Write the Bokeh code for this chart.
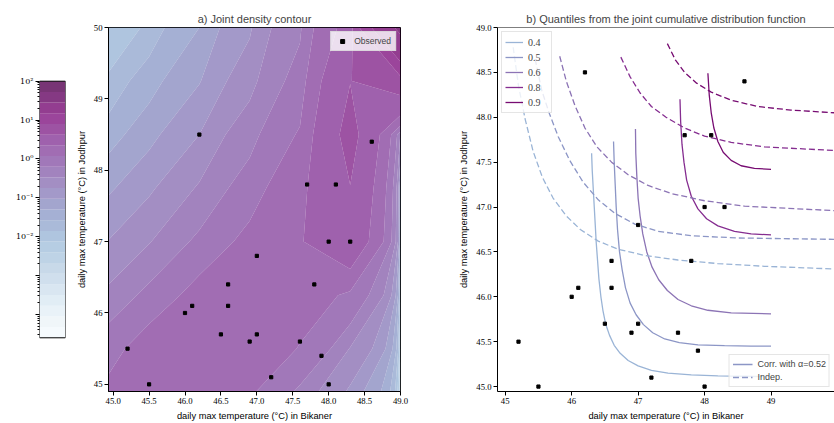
import numpy as np
from bokeh.plotting import figure
from bokeh.layouts import row
from bokeh.models import (Range1d, FixedTicker, CustomJSTickFormatter, PrintfTickFormatter,
                          Legend, LegendItem, Span)
from bokeh.embed import file_html
from bokeh.resources import INLINE

# ---------------- data ----------------
OBS_BIKANER = [45.2, 45.5, 46.0, 46.1, 46.2, 46.5, 46.6, 46.6, 46.9, 47.0, 47.0,
               47.2, 47.6, 47.7, 47.8, 47.9, 48.0, 48.0, 48.1, 48.3, 48.6]
OBS_JODHPUR = [45.5, 45.0, 46.0, 46.1, 48.5, 45.7, 46.1, 46.4, 45.6, 45.7, 46.8,
               45.1, 45.6, 47.8, 46.4, 45.4, 45.0, 47.0, 47.8, 47.0, 48.4]

# joint density (log10) read on a coarse grid
DENS_X = [44.8, 45.5, 46.2, 46.9, 47.6, 48.3, 49.0]
DENS_Y = [44.75, 45.5, 46.25, 47.0, 47.75, 48.5, 49.25, 50.0]
LOG10_DENS = [
    [0.12, 0.28, 0.32, 0.05, -0.40, -0.95, -4.5],
    [-0.12, 0.20, 0.34, 0.32, 0.05, -0.50, -4.5],
    [-0.47, -0.14, 0.17, 0.30, 0.25, 0.00, -4.0],
    [-0.82, -0.50, -0.15, 0.15, 0.33, 0.55, -3.0],
    [-1.18, -0.82, -0.45, -0.08, 0.28, 0.62, -2.0],
    [-1.55, -1.15, -0.75, -0.32, 0.10, 0.70, -0.5],
    [-1.90, -1.45, -1.05, -0.60, -0.10, 0.62, 0.75],
    [-2.25, -1.80, -1.30, -0.80, -0.25, 0.45, 1.50],
]
LOG_LEVEL_MIN = -4.6
LOG_LEVEL_MAX = 2.0
N_BANDS = 24
CB_MAJOR = [1e-4, 1e-3, 1e-2, 1e-1, 1e0, 1e1, 1e2]

QUANTILES = [0.4, 0.5, 0.6, 0.8, 0.9]
CORR_X_04 = [46.30, 46.31, 46.325, 46.34, 46.355, 46.37, 46.39, 46.41, 46.44, 46.47, 46.51,
             46.57, 46.64, 46.73, 46.85, 47.0, 47.2, 47.45, 47.8, 48.2, 48.6, 49.0]
CORR_Y_04 = [47.60, 47.40, 47.20, 47.00, 46.80, 46.60, 46.40, 46.20, 46.00, 45.85, 45.70,
             45.57, 45.46, 45.37, 45.29, 45.23, 45.18, 45.15, 45.13, 45.12, 45.115, 45.11]
CORR_X_05 = [46.63, 46.64, 46.655, 46.67, 46.69, 46.72, 46.76, 46.81, 46.88, 46.97, 47.08,
             47.22, 47.40, 47.62, 47.9, 48.3, 48.7, 49.0]
CORR_Y_05 = [47.73, 47.50, 47.25, 47.00, 46.75, 46.50, 46.30, 46.10, 45.93, 45.80, 45.69,
             45.60, 45.53, 45.49, 45.465, 45.455, 45.45, 45.45]
CORR_X_06 = [46.96, 46.965, 46.98, 47.0, 47.03, 47.07, 47.13, 47.21, 47.31, 47.44, 47.6,
             47.8, 48.05, 48.4, 49.0]
CORR_Y_06 = [47.87, 47.60, 47.35, 47.10, 46.90, 46.70, 46.50, 46.33, 46.19, 46.07, 45.97,
             45.90, 45.85, 45.82, 45.81]
CORR_X_08 = [47.63, 47.64, 47.66, 47.69, 47.73, 47.80, 47.90, 48.03, 48.20, 48.45, 48.70, 49.0]
CORR_Y_08 = [48.20, 47.95, 47.70, 47.50, 47.30, 47.12, 46.98, 46.87, 46.79, 46.73, 46.70, 46.69]
CORR_X_09 = [48.05, 48.07, 48.10, 48.14, 48.20, 48.28, 48.40, 48.55, 48.75, 49.0]
CORR_Y_09 = [48.49, 48.25, 48.05, 47.88, 47.73, 47.61, 47.52, 47.46, 47.43, 47.42]

IND_X_04 = [45.12, 45.20, 45.30, 45.42, 45.56, 45.72, 45.92, 46.13, 46.40, 46.70, 47.10,
            47.60, 48.20, 48.90, 49.95]
IND_Y_04 = [48.78, 48.35, 47.98, 47.62, 47.33, 47.10, 46.90, 46.75, 46.62, 46.53, 46.46,
            46.41, 46.37, 46.34, 46.31]
IND_X_05 = [45.45, 45.55, 45.66, 45.80, 45.97, 46.17, 46.40, 46.65, 46.95, 47.30, 47.80,
            48.50, 49.95]
IND_Y_05 = [48.65, 48.30, 48.05, 47.78, 47.52, 47.28, 47.08, 46.93, 46.81, 46.73, 46.68,
            46.655, 46.64]
IND_X_06 = [45.82, 45.92, 46.05, 46.20, 46.38, 46.60, 46.85, 47.15, 47.50, 48.00, 48.60, 49.95]
IND_Y_06 = [48.68, 48.40, 48.13, 47.88, 47.67, 47.50, 47.36, 47.24, 47.15, 47.07, 47.01, 46.96]
IND_X_08 = [46.74, 46.88, 47.03, 47.20, 47.42, 47.70, 48.00, 48.40, 48.90, 49.95]
IND_Y_08 = [48.67, 48.45, 48.27, 48.12, 48.00, 47.88, 47.79, 47.72, 47.67, 47.63]
IND_X_09 = [47.44, 47.56, 47.70, 47.88, 48.10, 48.40, 48.80, 49.30, 49.95]
IND_Y_09 = [48.82, 48.64, 48.50, 48.38, 48.28, 48.19, 48.12, 48.08, 48.05]

CORR_X = [CORR_X_04, CORR_X_05, CORR_X_06, CORR_X_08, CORR_X_09]
CORR_Y = [CORR_Y_04, CORR_Y_05, CORR_Y_06, CORR_Y_08, CORR_Y_09]
IND_X = [IND_X_04, IND_X_05, IND_X_06, IND_X_08, IND_X_09]
IND_Y = [IND_Y_04, IND_Y_05, IND_Y_06, IND_Y_08, IND_Y_09]

LEFT_XTICKS = [45.0, 45.5, 46.0, 46.5, 47.0, 47.5, 48.0, 48.5, 49.0]
LEFT_YTICKS = [45, 46, 47, 48, 49, 50]
RIGHT_XTICKS = [45, 46, 47, 48, 49, 50]
RIGHT_YTICKS = [45.0, 45.5, 46.0, 46.5, 47.0, 47.5, 48.0, 48.5, 49.0]

# ---------------- styles ----------------
BUPU = ["#f7fcfd", "#e0ecf4", "#bfd3e6", "#9ebcda", "#8c96c6",
        "#8c6bb1", "#88419d", "#810f7c", "#4d004b"]


def bupu(t):
    t = min(max(t, 0.0), 1.0) * 8
    i = min(int(t), 7)
    f = t - i
    a = [int(BUPU[i][k:k + 2], 16) for k in (1, 3, 5)]
    b = [int(BUPU[i + 1][k:k + 2], 16) for k in (1, 3, 5)]
    return "#%02x%02x%02x" % tuple(int(round(a[j] + (b[j] - a[j]) * f)) for j in range(3))


SANS = "Liberation Sans"
SERIF = "Liberation Serif"
XLAB = "daily max temperature (°C) in Bikaner"
YLAB = "daily max temperature (°C) in Jodhpur"

band_colors = [bupu((k + 0.5) / N_BANDS) for k in range(N_BANDS)]
log_levels = np.linspace(LOG_LEVEL_MIN, LOG_LEVEL_MAX, N_BANDS + 1)
levels = 10 ** log_levels

TOP, BOTTOM = 27, 30


def style_axis(ax, label=None):
    ax.major_label_text_font = SERIF
    ax.major_label_text_font_size = "8.7px"
    ax.major_label_text_color = "black"
    ax.major_tick_out = 4
    ax.major_tick_in = 0
    ax.minor_tick_line_color = None
    ax.axis_line_color = "black"
    ax.major_tick_line_color = "black"
    ax.major_label_standoff = 2
    if label is not None:
        ax.axis_label = label
        ax.axis_label_text_font = SANS
        ax.axis_label_text_font_size = "9.3px"
        ax.axis_label_text_font_style = "normal"
        ax.axis_label_text_color = "black"
        ax.axis_label_standoff = 4


# ---------------- colorbar ----------------
# colorbar body spans 258 px of the 366 px frame, centred vertically
pad_dec = 54 / (258 / (LOG_LEVEL_MAX - LOG_LEVEL_MIN))
cb = figure(width=66, height=423, x_range=Range1d(0, 1),
            y_range=Range1d(10 ** (LOG_LEVEL_MIN - pad_dec), 10 ** (LOG_LEVEL_MAX + pad_dec)),
            y_axis_type="log", x_axis_location=None,
            output_backend="svg", toolbar_location=None,
            min_border_left=39, min_border_right=1, min_border_top=TOP, min_border_bottom=BOTTOM)
cb.quad(left=0, right=1, bottom=levels[:-1], top=levels[1:],
        fill_color=band_colors, fill_alpha=0.8, line_color=None)
cb.quad(left=[0], right=[1], bottom=[levels[0]], top=[levels[-1]],
        fill_color=None, line_color="black", line_width=1)
cb.xgrid.visible = False
cb.ygrid.visible = False
cb.outline_line_color = None
minor = []
for e in range(-5, 2):
    for m in range(2, 10):
        v = m * 10.0 ** e
        if levels[0] <= v <= levels[-1]:
            minor.append(v)
cax = cb.yaxis[0]
cax.ticker = FixedTicker(ticks=CB_MAJOR, minor_ticks=minor)
cax.formatter = CustomJSTickFormatter(code="""
const e = Math.round(Math.log10(tick));
if (e < -2) { return ''; }
const sup = {'-':'\u207b','0':'\u2070','1':'\u00b9','2':'\u00b2','3':'\u00b3','4':'\u2074'};
return '10' + String(e).split('').map(c => sup[c]).join('');
""")
cax.major_label_text_font = "DejaVu Serif"
cax.major_label_text_font_size = "8px"
cax.major_label_text_color = "black"
cax.major_tick_out = 4
cax.major_tick_in = 0
cax.minor_tick_out = 2
cax.minor_tick_in = 0
cax.major_tick_line_color = "black"
cax.minor_tick_line_color = "black"
cax.major_label_standoff = 2
cax.axis_line_color = None

# ---------------- left: density contour ----------------
p1 = figure(width=354, height=423, x_range=Range1d(44.935, 49.0), y_range=Range1d(44.9, 50.0),
            output_backend="svg", toolbar_location=None,
            min_border_left=42, min_border_right=20, min_border_top=TOP, min_border_bottom=BOTTOM,
            title="a) Joint density contour")
Z = 10 ** np.array(LOG10_DENS)
p1.contour(x=DENS_X, y=DENS_Y, z=Z, levels=levels,
           fill_color=band_colors, fill_alpha=0.8, line_color=None)
obs1 = p1.scatter(OBS_BIKANER, OBS_JODHPUR, marker="square", size=3.2,
                  fill_color="black", line_color="black")
p1.xgrid.visible = False
p1.ygrid.visible = False
p1.outline_line_color = "black"
p1.outline_line_alpha = 1
style_axis(p1.xaxis[0], XLAB)
style_axis(p1.yaxis[0], YLAB)
p1.xaxis[0].ticker = FixedTicker(ticks=LEFT_XTICKS)
p1.xaxis[0].formatter = PrintfTickFormatter(format="%.1f")
p1.yaxis[0].ticker = FixedTicker(ticks=LEFT_YTICKS)
p1.title.text_font = SANS
p1.title.text_font_size = "11px"
p1.title.text_font_style = "normal"
p1.title.align = "center"
p1.title.standoff = 6
leg1 = Legend(items=[LegendItem(label="Observed", renderers=[obs1])], location="top_right")
leg1.label_text_font = SANS
leg1.label_text_font_size = "8.5px"
leg1.background_fill_alpha = 0.8
leg1.border_line_color = "#cccccc"
leg1.glyph_width = 14
leg1.glyph_height = 10
leg1.label_height = 10
leg1.padding = 4
leg1.margin = 4
p1.add_layout(leg1)

# ---------------- right: quantile curves ----------------
p2 = figure(width=414, height=423, x_range=Range1d(44.884, 49.955), y_range=Range1d(44.945, 49.0),
            output_backend="svg", toolbar_location=None,
            min_border_left=77, min_border_right=0, min_border_top=TOP, min_border_bottom=BOTTOM,
            title="b) Quantiles from the joint cumulative distribution function")
solid = []
for q, xs, ys in zip(QUANTILES, CORR_X, CORR_Y):
    solid.append(p2.line(xs, ys, line_color=bupu(q), line_width=1.3))
for q, xs, ys in zip(QUANTILES, IND_X, IND_Y):
    p2.line(xs, ys, line_color=bupu(q), line_width=1.3, line_dash="6 3")
p2.scatter(OBS_BIKANER, OBS_JODHPUR, marker="square", size=3.2,
           fill_color="black", line_color="black")
# legend-only renderers, placed outside the visible ranges
corr_dummy = p2.line(x=[100, 101], y=[100, 101], line_color=bupu(0.5), line_width=1.3)
ind_dummy = p2.line(x=[100, 101], y=[100, 101], line_color=bupu(0.5), line_width=1.3,
                    line_dash="6 3")
p2.xgrid.visible = False
p2.ygrid.visible = False
p2.outline_line_color = None
p2.add_layout(Span(location=49.0, dimension="width", line_color="black", line_width=1))
style_axis(p2.xaxis[0], XLAB)
style_axis(p2.yaxis[0], YLAB)
p2.xaxis[0].ticker = FixedTicker(ticks=RIGHT_XTICKS)
p2.yaxis[0].ticker = FixedTicker(ticks=RIGHT_YTICKS)
p2.yaxis[0].formatter = PrintfTickFormatter(format="%.1f")
p2.title.text_font = SANS
p2.title.text_font_size = "11px"
p2.title.text_font_style = "normal"
p2.title.align = "center"
p2.title.standoff = 6

leg2 = Legend(items=[LegendItem(label=str(q), renderers=[r]) for q, r in zip(QUANTILES, solid)],
              location="top_left")
leg2.label_text_font = SERIF
leg2.label_text_font_size = "10px"
leg2.background_fill_alpha = 0.8
leg2.border_line_color = "#cccccc"
leg2.glyph_width = 18
leg2.glyph_height = 14
leg2.label_height = 14
leg2.spacing = 1
leg2.padding = 3
leg2.margin = 4
p2.add_layout(leg2)

leg3 = Legend(items=[LegendItem(label="Corr. with α=0.52", renderers=[corr_dummy]),
                     LegendItem(label="Indep.", renderers=[ind_dummy])],
              location="bottom_right")
leg3.label_text_font = SANS
leg3.label_text_font_size = "9px"
leg3.background_fill_alpha = 0.8
leg3.border_line_color = "#cccccc"
leg3.glyph_width = 20
leg3.glyph_height = 12
leg3.label_height = 12
leg3.spacing = 1
leg3.padding = 3
leg3.margin = 4
p2.add_layout(leg3)

layout = row(cb, p1, p2)
open("out.html", "w").write(file_html(layout, INLINE))
